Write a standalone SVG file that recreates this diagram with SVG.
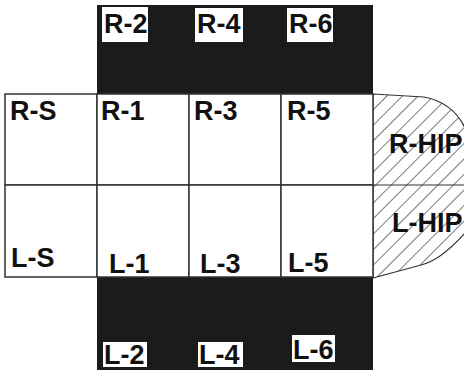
<svg xmlns="http://www.w3.org/2000/svg" width="464" height="370" viewBox="0 0 464 370">
<defs>
<pattern id="hatch" patternUnits="userSpaceOnUse" width="11" height="11" patternTransform="rotate(45)">
<rect width="11" height="11" fill="#fff"/>
<line x1="0" y1="0" x2="0" y2="11" stroke="#222" stroke-width="1.2"/>
</pattern>
</defs>
<style>
.cell{fill:#fff;stroke:#333;stroke-width:1.5}
.blk{fill:#1b1b1b}
.lab{fill:#fff}
text{font-family:"Liberation Sans",Arial,sans-serif;font-weight:bold;font-size:27px;fill:#111}
</style>
<g id="top-band">
<rect class="blk" x="97" y="5" width="276" height="90"/>
<rect class="lab" x="102" y="7" width="46" height="35"/>
<text x="104" y="33">R-2</text>
<rect class="lab" x="195" y="8" width="48" height="34"/>
<text x="197" y="33">R-4</text>
<rect class="lab" x="287" y="8" width="46" height="34"/>
<text x="289" y="33">R-6</text>
</g>
<g id="bottom-band">
<rect class="blk" x="97" y="277" width="276" height="93"/>
<rect class="lab" x="103" y="342" width="44" height="25"/>
<text x="104" y="364">L-2</text>
<rect class="lab" x="198" y="342" width="45" height="25"/>
<text x="199" y="364">L-4</text>
<rect class="lab" x="292" y="335" width="43" height="27"/>
<text x="293" y="359">L-6</text>
</g>
<g id="hip">
<path d="M373,94 L424,97 C445,101 458,112 466,130 L466,232 C450,250 435,262 421,265 L373,278 Z" fill="url(#hatch)" stroke="#333" stroke-width="1.2"/>
<line x1="373" y1="185" x2="464" y2="185" stroke="#333" stroke-width="1.2"/>
<text x="389" y="153">R-HIP</text>
<text x="392" y="232">L-HIP</text>
</g>
<g id="R-S"><rect class="cell" x="5" y="94" width="92" height="91"/><text x="10" y="120">R-S</text></g>
<g id="R-1"><rect class="cell" x="97" y="94" width="92" height="91"/><text x="101" y="120">R-1</text></g>
<g id="R-3"><rect class="cell" x="189" y="94" width="92" height="91"/><text x="194" y="120">R-3</text></g>
<g id="R-5"><rect class="cell" x="281" y="94" width="92" height="91"/><text x="287" y="120">R-5</text></g>
<g id="L-S"><rect class="cell" x="5" y="185" width="92" height="92"/><text x="11" y="267">L-S</text></g>
<g id="L-1"><rect class="cell" x="97" y="185" width="92" height="92"/><text x="109" y="273">L-1</text></g>
<g id="L-3"><rect class="cell" x="189" y="185" width="92" height="92"/><text x="200" y="273">L-3</text></g>
<g id="L-5"><rect class="cell" x="281" y="185" width="92" height="92"/><text x="288" y="272">L-5</text></g>
<g id="connectors"></g>
</svg>
